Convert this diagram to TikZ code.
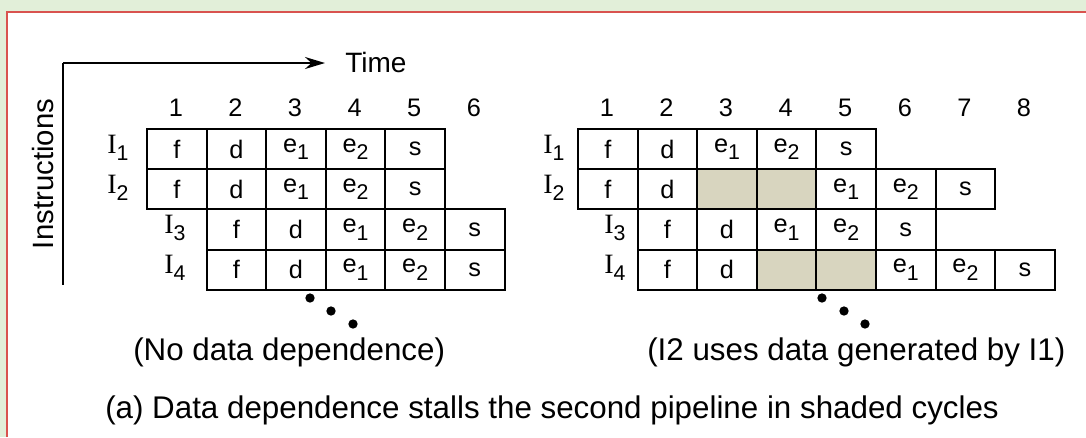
\documentclass[tikz,border=0pt]{standalone}
\usepackage{fontspec}
\setmainfont{Liberation Sans}
\newfontfamily\serifI{Liberation Serif}
\usetikzlibrary{arrows.meta}
\definecolor{bandgreen}{HTML}{E2EFD9}
\definecolor{framered}{HTML}{D9534F}
\definecolor{stall}{HTML}{D8D5BF}
% subscripts hang low and stay fairly large
\newcommand\sbs[1]{\raisebox{-0.55ex}{\fontsize{16}{16}\selectfont #1}}
\newcommand\eone{e\sbs{1}}
\newcommand\etwo{e\sbs{2}}
\newcommand\instr[1]{{\serifI\fontsize{21}{21}\selectfont I}\sbs{#1}}
\tikzset{
  cell/.style={draw, line width=1.5pt, minimum width=44.7pt, minimum height=30.15pt,
    inner sep=0pt, anchor=north west, font=\fontsize{19}{19}\selectfont},
  rowlabel/.style={inner sep=0pt, font=\fontsize{19}{19}\selectfont},
  cyclenum/.style={inner sep=0pt, font=\fontsize{19}{19}\selectfont},
  caption/.style={inner sep=0pt, font=\fontsize{23.5}{23.5}\selectfont},
  axisline/.style={line width=1.5pt},
  dot/.style={circle, fill=black, inner sep=0pt, minimum size=7pt}
}
\begin{document}
\begin{tikzpicture}[x=0.75pt, y=-0.75pt]
\useasboundingbox (0,0) rectangle (1086,437);
% page frame
\fill[white] (0,0) rectangle (1086,437);
\fill[bandgreen] (0,0) rectangle (1086,11.5);
\fill[bandgreen] (0,0) rectangle (6.5,437);
\draw[framered, line width=1.1pt] (7,437) -- (7,12) -- (1086,12);

% axes
\coordinate (origin) at (63,63);
\coordinate (axisend) at (63,285);
\node[inner sep=0pt, anchor=west, font=\fontsize{21}{21}\selectfont] (time) at (345,62) {Time};
\node[inner sep=0pt, rotate=90, font=\fontsize{22}{22}\selectfont] (instr) at (43,174) {Instructions};
\draw[axisline, -{Stealth[length=15pt, width=9pt]}, shorten >=15pt] (origin) -- (time.west |- origin);
\draw[axisline] (origin) -- (axisend);

% ---------- left pipeline: no data dependence ----------
\foreach \n [count=\c from 0] in {1,...,6}
  \node[cyclenum] (ln\n) at ({175.8+\c*59.6},108) {\n};
\foreach \t [count=\c from 0] in {f,d,\eone,\etwo,s}
  \node[cell] (la\c) at ({146+\c*59.6},128) {\t};
\foreach \t [count=\c from 0] in {f,d,\eone,\etwo,s}
  \node[cell] (lb\c) at ({146+\c*59.6},168.2) {\t};
\foreach \t [count=\c from 1] in {f,d,\eone,\etwo,s}
  \node[cell] (lc\c) at ({146+\c*59.6},208.4) {\t};
\foreach \t [count=\c from 1] in {f,d,\eone,\etwo,s}
  \node[cell] (ld\c) at ({146+\c*59.6},248.6) {\t};
\node[rowlabel] (li1) at (118,148) {\instr{1}};
\node[rowlabel] (li2) at (118,188) {\instr{2}};
\node[rowlabel] (li3) at (175,228) {\instr{3}};
\node[rowlabel] (li4) at (175,268) {\instr{4}};
\node[dot] (ldot1) at (310,298) {};
\node[dot] (ldot2) at (331,311) {};
\node[dot] (ldot3) at (353,324) {};
\node[caption, anchor=west] (lcap) at (133,352) {(No data dependence)};

% ---------- right pipeline: I2 depends on I1 ----------
\foreach \n [count=\c from 0] in {1,...,8}
  \node[cyclenum] (rn\n) at ({606.8+\c*59.6},108) {\n};
\foreach \t [count=\c from 0] in {f,d,\eone,\etwo,s}
  \node[cell] (ra\c) at ({577+\c*59.6},128) {\t};
\foreach \t/\fc [count=\c from 0] in {f/white,d/white,{}/stall,{}/stall,\eone/white,\etwo/white,s/white}
  \node[cell, fill=\fc] (rb\c) at ({577+\c*59.6},168.2) {\t};
\foreach \t [count=\c from 1] in {f,d,\eone,\etwo,s}
  \node[cell] (rc\c) at ({577+\c*59.6},208.4) {\t};
\foreach \t/\fc [count=\c from 1] in {f/white,d/white,{}/stall,{}/stall,\eone/white,\etwo/white,s/white}
  \node[cell, fill=\fc] (rd\c) at ({577+\c*59.6},248.6) {\t};
\node[rowlabel] (ri1) at (554,148) {\instr{1}};
\node[rowlabel] (ri2) at (554,188) {\instr{2}};
\node[rowlabel] (ri3) at (615,228) {\instr{3}};
\node[rowlabel] (ri4) at (615,268) {\instr{4}};
\node[dot] (rdot1) at (822,298) {};
\node[dot] (rdot2) at (844,311) {};
\node[dot] (rdot3) at (865,324) {};
\node[caption, anchor=west] (rcap) at (647,352) {(I2 uses data generated by I1)};

% figure caption
\node[caption, anchor=west] (fig) at (105,410) {(a) Data dependence stalls the second pipeline in shaded cycles};
\end{tikzpicture}
\end{document}
